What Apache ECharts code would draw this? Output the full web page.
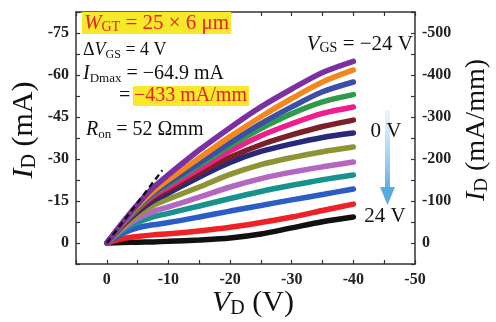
<!DOCTYPE html>
<html>
<head>
<meta charset="utf-8">
<script src="https://cdn.jsdelivr.net/npm/echarts@6/dist/echarts.min.js"></script>
<style>
  html, body { margin: 0; padding: 0; background: #fff; }
  #chart { width: 496px; height: 322px; }
</style>
</head>
<body>
<div id="chart"></div>
<script>
// Drain voltage sample points (V)
const vd = [0, -2.5, -5, -7.5, -10, -15, -20, -25, -30, -35, -40];

// Gate voltages, top curve to bottom curve (V)
const vgs = [-24, -20, -16, -12, -8, -4, 0, 4, 8, 12, 16, 20, 24];

// Drain current (mA) for each gate voltage
const idVgsM24 = [0, -7.2, -13.8, -19.7, -24.4, -33.2, -41.2, -48.6, -55.0, -60.9, -64.9];
const idVgsM20 = [0, -7.0, -13.2, -18.4, -22.6, -30.4, -38.0, -45.1, -51.6, -57.5, -61.8];
const idVgsM16 = [0, -6.8, -12.8, -17.8, -21.5, -28.6, -35.8, -42.6, -48.6, -54.0, -57.5];
const idVgsM12 = [0, -6.7, -12.5, -17.4, -20.9, -27.7, -34.7, -40.9, -46.2, -50.4, -53.0];
const idVgsM8  = [0, -6.6, -12.1, -16.8, -20.0, -26.4, -32.8, -38.3, -42.6, -46.3, -48.6];
const idVgsM4  = [0, -6.4, -11.7, -16.0, -19.0, -25.0, -30.6, -35.1, -38.6, -41.6, -43.9];
const idVgs0   = [0, -6.1, -11.1, -15.0, -17.8, -23.6, -28.8, -32.7, -35.4, -37.7, -39.3];
const idVgsP4  = [0, -5.6, -10.0, -13.4, -15.7, -20.0, -24.5, -28.0, -30.5, -32.6, -34.3];
const idVgsP8  = [0, -5.0, -8.7, -11.2, -12.9, -16.4, -20.0, -23.0, -25.3, -27.2, -28.9];
const idVgsP12 = [0, -4.4, -7.3, -9.3, -10.6, -13.2, -15.9, -18.4, -20.6, -22.6, -24.3];
const idVgsP16 = [0, -3.4, -5.4, -6.5, -7.3, -9.3, -11.4, -13.4, -15.4, -17.3, -19.3];
const idVgsP20 = [0, -1.5, -2.3, -2.9, -3.3, -4.3, -5.6, -7.3, -9.3, -11.6, -13.9];
const idVgsP24 = [0, -0.2, -0.3, -0.4, -0.6, -1.1, -1.8, -3.2, -5.4, -7.6, -9.3];

const curves = [idVgsM24, idVgsM20, idVgsM16, idVgsM12, idVgsM8, idVgsM4, idVgs0,
                idVgsP4, idVgsP8, idVgsP12, idVgsP16, idVgsP20, idVgsP24];

const curveColors = ['#7a2fa2', '#f2871e', '#3b4ea8', '#2e9a4a', '#ee1e8e', '#7c1f26',
                     '#27297a', '#8d9434', '#b366c2', '#17928c', '#2b5dc6', '#ee2226', '#111111'];

// On-resistance reference line: Ron = 52 ohm*mm, gate width 25 x 6 um = 0.15 mm
const ronOhmMm = 52;
const gateWidthMm = 0.15;
const ronLineVd = [0, -9.0];

// Axis ticks
const vdTicks = [0, -10, -20, -30, -40, -50];
const idTicks = [0, -15, -30, -45, -60, -75];
const idDensityTicks = [0, -100, -200, -300, -400, -500];

const SERIF = "'Liberation Serif', 'Times New Roman', serif";
const AXIS_COLOR = '#333';
const RED = '#e8202a';
const HIGHLIGHT = '#f7e82a';

const chart = echarts.init(document.getElementById('chart'), null, { renderer: 'canvas' });

const series = curves.map((vals, k) => ({
  name: 'VGS ' + vgs[k] + ' V',
  type: 'line',
  smooth: 0.3,
  symbol: 'none',
  z: 2 + (curves.length - k),
  lineStyle: { color: curveColors[k], width: 5.5, cap: 'round' },
  data: vd.map((v, i) => [v, vals[i]])
}));

const ronOhm = ronOhmMm / gateWidthMm;
series.push({
  name: 'Ron',
  type: 'line',
  symbol: 'none',
  z: 20,
  lineStyle: { color: '#111', width: 2.4, type: [6, 4] },
  data: ronLineVd.map(v => [v, v * 1000 / ronOhm])
});

const tickLabel = { fontFamily: SERIF, fontWeight: 'bold', fontSize: 16, color: '#222' };
const onlyOn = list => v => (list.some(t => Math.abs(t - v) < 1e-6) ? String(v) : '');

// rich-text helpers for graphic text (zrender uses fill for colour)
const it = (size, fill) => ({ fontFamily: SERIF, fontStyle: 'italic', fontSize: size, fill: fill, lineHeight: 22 });
const up = (size, fill) => ({ fontFamily: SERIF, fontSize: size, fill: fill, lineHeight: 22 });
const sb = (size, fill) => ({ fontFamily: SERIF, fontSize: size, fill: fill, verticalAlign: 'bottom', lineHeight: 16 });

const titleRich = {
  i: { fontFamily: SERIF, fontStyle: 'italic', fontSize: 30, fill: '#111', lineHeight: 32 },
  s: { fontFamily: SERIF, fontSize: 20, fill: '#111', verticalAlign: 'bottom', lineHeight: 23 },
  n: { fontFamily: SERIF, fontSize: 30, fill: '#111', lineHeight: 32 }
};
const titleRichR = {
  i: { fontFamily: SERIF, fontStyle: 'italic', fontSize: 28, fill: '#111', lineHeight: 30 },
  s: { fontFamily: SERIF, fontSize: 19, fill: '#111', verticalAlign: 'bottom', lineHeight: 22 },
  n: { fontFamily: SERIF, fontSize: 28, fill: '#111', lineHeight: 30 }
};

chart.setOption({
  animation: false,
  backgroundColor: '#fff',
  grid: { left: 76, right: 81, top: 12, bottom: 58 },
  xAxis: [
    {
      type: 'value', position: 'bottom', inverse: true,
      min: -50, max: 5, interval: 5,
      axisLine: { onZero: false, lineStyle: { color: AXIS_COLOR, width: 1.5 } },
      axisTick: { inside: true, length: 4, lineStyle: { color: AXIS_COLOR, width: 1.2 } },
      axisLabel: Object.assign({ margin: 8, formatter: onlyOn(vdTicks) }, tickLabel),
      splitLine: { show: false }
    },
    {
      type: 'value', position: 'top', inverse: true,
      min: -50, max: 5, interval: 5,
      axisLine: { onZero: false, lineStyle: { color: AXIS_COLOR, width: 1.5 } },
      axisTick: { inside: true, length: 4, lineStyle: { color: AXIS_COLOR, width: 1.2 } },
      axisLabel: { show: false },
      splitLine: { show: false }
    }
  ],
  yAxis: [
    {
      type: 'value', position: 'left', inverse: true,
      min: -82.5, max: 7.5, interval: 7.5,
      axisLine: { onZero: false, lineStyle: { color: AXIS_COLOR, width: 1.5 } },
      axisTick: { inside: true, length: 4, lineStyle: { color: AXIS_COLOR, width: 1.2 } },
      axisLabel: Object.assign({ margin: 7, formatter: onlyOn(idTicks) }, tickLabel),
      splitLine: { show: false }
    },
    {
      type: 'value', position: 'right', inverse: true,
      min: -550, max: 50, interval: 50,
      axisLine: { onZero: false, lineStyle: { color: AXIS_COLOR, width: 1.5 } },
      axisTick: { inside: true, length: 4, lineStyle: { color: AXIS_COLOR, width: 1.2 } },
      axisLabel: Object.assign({ margin: 7, formatter: onlyOn(idDensityTicks) }, tickLabel),
      splitLine: { show: false }
    }
  ],
  graphic: [
    // Axis titles
    {
      type: 'text', x: 24, y: 130, rotation: Math.PI / 2, z: 30,
      style: { text: '{i|I}{s|D}{n| (mA)}', align: 'center', verticalAlign: 'middle', rich: titleRich }
    },
    {
      type: 'text', x: 477, y: 130, rotation: Math.PI / 2, z: 30,
      style: { text: '{i|I}{s|D}{n| (mA/mm)}', align: 'center', verticalAlign: 'middle', rich: titleRichR }
    },
    {
      type: 'text', x: 253, y: 303, z: 30,
      style: { text: '{i|V}{s|D}{n| (V)}', align: 'center', verticalAlign: 'middle', rich: titleRich }
    },
    // Device annotations
    {
      type: 'text', x: 82, y: 23, z: 30,
      style: {
        text: '{i|W}{s|GT}{n| = 25 × 6 μm}', verticalAlign: 'middle',
        backgroundColor: HIGHLIGHT, padding: [0, 2, 0, 2],
        rich: { i: it(21, RED), s: sb(14, RED), n: up(21, RED) }
      }
    },
    {
      type: 'text', x: 83, y: 50, z: 30,
      style: {
        text: '{n|Δ}{i|V}{s|GS}{n| = 4 V}', verticalAlign: 'middle',
        rich: { i: it(18, '#111'), s: sb(12, '#111'), n: up(18, '#111') }
      }
    },
    {
      type: 'text', x: 83, y: 74, z: 30,
      style: {
        text: '{i|I}{s|Dmax}{n| = −64.9 mA}', verticalAlign: 'middle',
        rich: { i: it(20, '#111'), s: sb(13, '#111'), n: up(20, '#111') }
      }
    },
    {
      type: 'text', x: 119, y: 96, z: 30,
      style: { text: '=', verticalAlign: 'middle', fontFamily: SERIF, fontSize: 20, fill: '#111' }
    },
    {
      type: 'text', x: 133, y: 96, z: 30,
      style: {
        text: '−433 mA/mm', verticalAlign: 'middle',
        fontFamily: SERIF, fontSize: 20, fill: RED,
        backgroundColor: HIGHLIGHT, padding: [0, 2, 0, 1]
      }
    },
    {
      type: 'text', x: 86, y: 130, z: 30,
      style: {
        text: '{i|R}{s|on}{n| = 52 Ωmm}', verticalAlign: 'middle',
        rich: { i: it(20, '#111'), s: sb(13, '#111'), n: up(20, '#111') }
      }
    },
    {
      type: 'text', x: 413, y: 44, z: 30,
      style: {
        text: '{i|V}{s|GS}{n| = −24 V}', align: 'right', verticalAlign: 'middle',
        rich: { i: it(21, '#111'), s: sb(14, '#111'), n: up(21, '#111') }
      }
    },
    {
      type: 'text', x: 386, y: 131, z: 30,
      style: { text: '0 V', align: 'center', verticalAlign: 'middle', fontFamily: SERIF, fontSize: 21, fill: '#111' }
    },
    {
      type: 'text', x: 385, y: 216, z: 30,
      style: { text: '24 V', align: 'center', verticalAlign: 'middle', fontFamily: SERIF, fontSize: 21, fill: '#111' }
    },
    // Gate-voltage direction arrow
    {
      type: 'rect', z: 25,
      shape: { x: 385, y: 110, width: 5, height: 80 },
      style: {
        fill: new echarts.graphic.LinearGradient(0, 0, 0, 1, [
          { offset: 0, color: 'rgba(170,215,245,0.25)' },
          { offset: 1, color: '#55ace4' }
        ])
      }
    },
    {
      type: 'polygon', z: 25,
      shape: { points: [[380, 187], [395, 187], [387.5, 205]] },
      style: { fill: '#55ace4' }
    }
  ],
  series: series
});
</script>
</body>
</html>
